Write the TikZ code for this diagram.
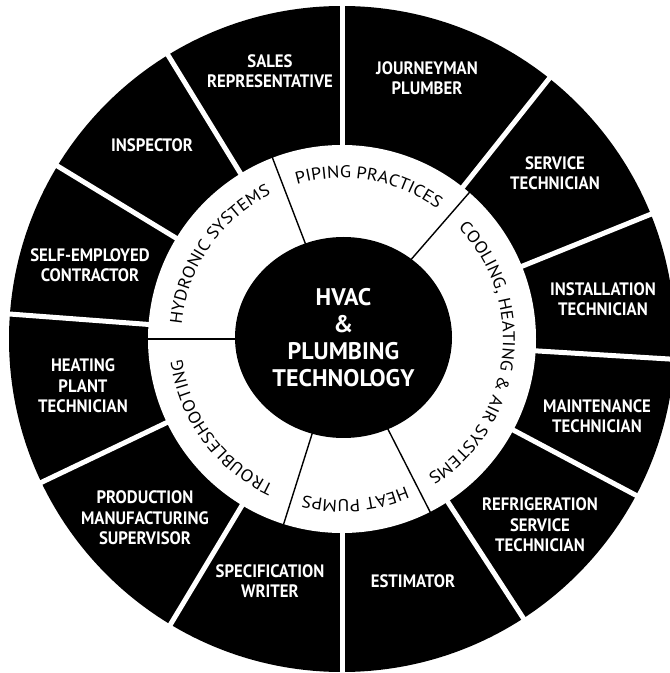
\documentclass[tikz,border=0pt]{standalone}
\usepackage{fontspec}
\usetikzlibrary{shapes.geometric,decorations.text}
\newfontfamily\jobfont{PT Sans Bold}[FakeStretch=0.93]
\newfontfamily\hubfont{PT Sans Bold}
\newfontfamily\ringfont{PT Sans}[FakeStretch=1.08]
\begin{document}
\begin{tikzpicture}[x=1pt,y=1pt]
% Styles
\tikzstyle{job} = [text=white, align=center, inner sep=0pt, font=\jobfont\fontsize{18}{20.5}\selectfont]
\tikzstyle{gap} = [white, line width=5pt]
\tikzstyle{ringline} = [black, line width=1.4pt]
\tikzstyle{ringtext} = [decorate, decoration={text along path, text align=center}]

\useasboundingbox (0,0) rectangle (670,673);
\coordinate (c) at (342,334);

% Outer black ring of careers
\fill[black] (c) circle[radius=333];
\foreach \a in {90,51.5,22,-3.5,-28,-57,-90,-121,-154.5,175.7,148.7,121.5}
    \draw[gap] (c) ++(\a:185) -- ++(\a:160);

% White ring of subjects
\fill[white] (c) circle[radius=194];
\foreach \a in {111,49,-63,-107.5,180}
    \draw[ringline] (c) ++(\a:95) -- ++(\a:100);

% Subject names along the ring
\path[ringtext, decoration={text={|\ringfont\fontsize{17}{20}\selectfont|PIPING PRACTICES}}]
    (c) ++(111:161) arc[start angle=111, end angle=49, radius=161];
\path[ringtext, decoration={text={|\ringfont\fontsize{17}{20}\selectfont|COOLING, HEATING {\&} AIR SYSTEMS}}]
    (c) ++(49:161) arc[start angle=49, end angle=-63, radius=161];
\path[ringtext, decoration={text={|\ringfont\fontsize{17}{20}\selectfont|HEAT PUMPS}}]
    (c) ++(-63:161) arc[start angle=-63, end angle=-107.5, radius=161];
\path[ringtext, decoration={text={|\ringfont\fontsize{17}{20}\selectfont|TROUBLESHOOTING}}]
    (c) ++(-107.5:161) arc[start angle=-107.5, end angle=-180, radius=161];
\path[ringtext, decoration={text={|\ringfont\fontsize{17}{20}\selectfont|HYDRONIC SYSTEMS}}]
    (c) ++(180:161) arc[start angle=180, end angle=111, radius=161];

% Hub
\node[ellipse, fill=black, minimum width=217pt, minimum height=201pt, inner sep=0pt,
      text=white, align=center, font=\hubfont\fontsize{24}{27}\selectfont] (hub) at (343.5,335.5) {
    HVAC\\
    \&\\
    PLUMBING\\
    TECHNOLOGY
};

% Careers
\node[job] (sales) at (270,602) {SALES\\REPRESENTATIVE};
\node[job] (journeyman) at (427,595) {JOURNEYMAN\\PLUMBER};
\node[job] (service) at (555,500) {SERVICE\\TECHNICIAN};
\node[job] (installation) at (603,374) {INSTALLATION\\TECHNICIAN};
\node[job] (maintenance) at (597,257) {MAINTENANCE\\TECHNICIAN};
\node[job] (refrigeration) at (540,148) {REFRIGERATION\\SERVICE\\TECHNICIAN};
\node[job] (estimator) at (413,92) {ESTIMATOR};
\node[job] (specification) at (270,92) {SPECIFICATION\\WRITER};
\node[job] (production) at (145,155) {PRODUCTION\\MANUFACTURING\\SUPERVISOR};
\node[job] (heatingplant) at (83,287) {HEATING\\PLANT\\TECHNICIAN};
\node[job] (selfemployed) at (90,408) {SELF-EMPLOYED\\CONTRACTOR};
\node[job] (inspector) at (152,528) {INSPECTOR};
\end{tikzpicture}
\end{document}
